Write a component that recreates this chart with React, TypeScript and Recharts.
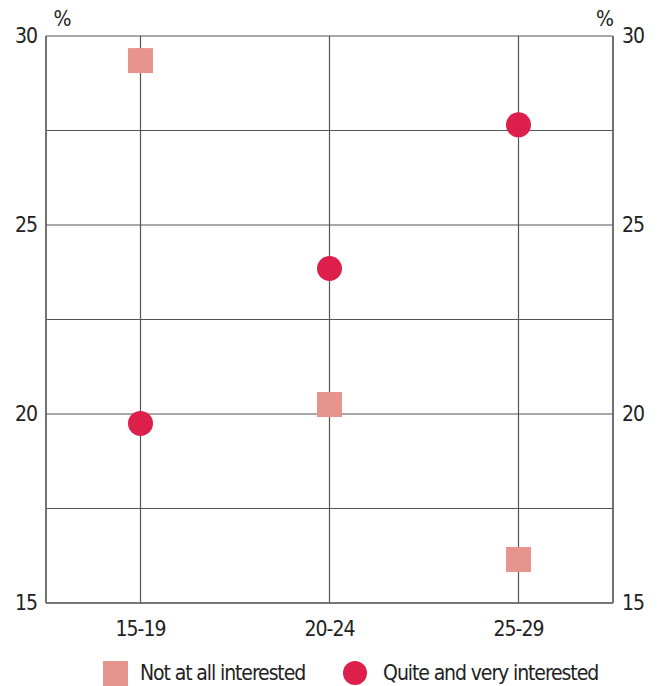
import React from 'react';
import { ComposedChart, Line, CartesianGrid, XAxis, YAxis, Legend } from 'recharts';

const categories = ['15-19', '20-24', '25-29'];
const notAtAllInterested = [29.35, 20.25, 16.15];
const quiteAndVeryInterested = [19.75, 23.85, 27.65];
const yTicks = [15, 17.5, 20, 22.5, 25, 27.5, 30];
const seriesNames = ['Not at all interested', 'Quite and very interested'];

const SQUARE_COLOR = '#E8948E';
const CIRCLE_COLOR = '#DC1F4B';
const FONT = '"DejaVu Sans Condensed", "DejaVu Sans", sans-serif';

const chartData = categories.map((cat, i) => ({
    cat,
    notAtAll: notAtAllInterested[i],
    quite: quiteAndVeryInterested[i],
}));

const SquareDot = (props: any) => {
    const { cx, cy, index } = props;
    if (cx == null || cy == null) return <g key={index} />;
    return <rect key={index} x={cx - 12.5} y={cy - 12.5} width={25} height={25} fill={SQUARE_COLOR} />;
};

const CircleDot = (props: any) => {
    const { cx, cy, index } = props;
    if (cx == null || cy == null) return <g key={index} />;
    return <circle key={index} cx={cx} cy={cy} r={12.5} fill={CIRCLE_COLOR} />;
};

const tickFmt = (v: number) => (Number.isInteger(v) ? String(v) : '');

const LegendContent = () => (
    <div style={{ display: 'flex', alignItems: 'center', height: 43, boxSizing: 'border-box', paddingTop: 17, paddingLeft: 95, fontFamily: FONT, fontStretch: 'condensed', fontSize: 21, letterSpacing: -1.1, color: '#222' }}>
        <span style={{ width: 25, height: 25, background: SQUARE_COLOR, marginRight: 12 }} />
        <span>{seriesNames[0]}</span>
        <span style={{ width: 24, height: 24, borderRadius: '50%', background: CIRCLE_COLOR, marginLeft: 38, marginRight: 16 }} />
        <span>{seriesNames[1]}</span>
    </div>
);

const App: React.FC = () => {
    const tickStyle = { fontFamily: FONT, fontStretch: 'condensed', fontSize: 21, letterSpacing: -1, fill: '#222' };
    return (
        <ComposedChart width={650} height={678} data={chartData} margin={{ top: 28, right: 0, bottom: 0, left: 0 }}>
            <CartesianGrid stroke="#555" strokeWidth={1.2} />
            <XAxis dataKey="cat" scale="band" tickLine={false} axisLine={{ stroke: '#666', strokeWidth: 1.5 }} tick={tickStyle} tickMargin={12} height={40} />
            <YAxis
                domain={[15, 30]}
                ticks={yTicks}
                interval={0}
                tickFormatter={tickFmt}
                tickLine={false}
                axisLine={{ stroke: '#666', strokeWidth: 1.5 }}
                tick={tickStyle}
                tickMargin={3}
                width={38}
                label={{ value: '%', position: 'top', dx: 35, offset: 10, style: tickStyle }}
            />
            <YAxis
                yAxisId="right"
                orientation="right"
                domain={[15, 30]}
                allowDataOverflow
                ticks={yTicks}
                interval={0}
                tickFormatter={tickFmt}
                tickLine={false}
                axisLine={{ stroke: '#666', strokeWidth: 1.5 }}
                tick={tickStyle}
                tickMargin={3}
                width={45}
                label={{ value: '%', position: 'top', dx: -31, offset: 10, style: tickStyle }}
            />
            <Legend verticalAlign="bottom" height={43} content={LegendContent} />
            <Line dataKey="notAtAll" name={seriesNames[0]} stroke="none" dot={SquareDot} activeDot={false} isAnimationActive={false} />
            <Line dataKey="quite" name={seriesNames[1]} stroke="none" dot={CircleDot} activeDot={false} isAnimationActive={false} />
        </ComposedChart>
    );
};

export default App;
